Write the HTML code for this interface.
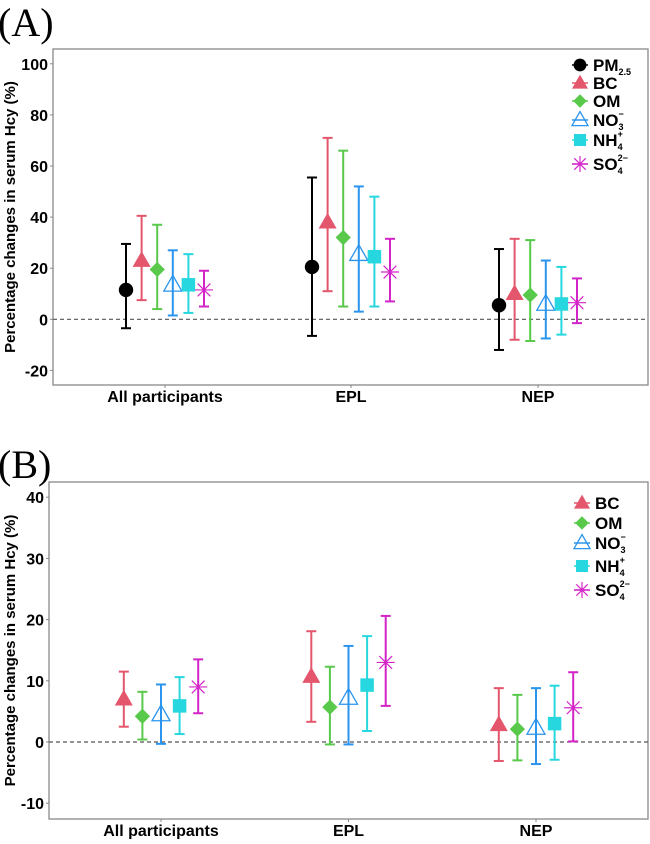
<!DOCTYPE html>
<html><head><meta charset="utf-8"><style>
body{margin:0;background:#fff;}
svg text{font-family:"Liberation Sans",Arial,sans-serif;}
</style></head><body>
<svg id="chart" width="650" height="839" xmlns="http://www.w3.org/2000/svg">
<rect width="650" height="839" fill="#fff"/>
<text x="-2" y="36" style="font-family:'Liberation Serif',serif" font-size="40">(A)</text>
<text x="-2" y="478" style="font-family:'Liberation Serif',serif" font-size="40">(B)</text>
</svg>
<script>
const categories = ["All participants","EPL","NEP"];
const seriesA = ["PM2.5","BC","OM","NO3","NH4","SO4"];
const estA = [[11.5,23,19.5,13.5,13.5,11.5],[20.5,38,32,25.5,24.5,18.5],[5.5,10,9.5,6,6,6.5]];
const lowA = [[-3.5,7.5,4,1.5,2.5,5],[-6.5,11,5,3,5,7],[-12,-8,-8.5,-7.5,-6,-1.5]];
const highA = [[29.5,40.5,37,27,25.5,19],[55.5,71,66,52,48,31.5],[27.5,31.5,31,23,20.5,16]];
const ticksA = [100,80,60,40,20,0,-20];
const seriesB = ["BC","OM","NO3","NH4","SO4"];
const estB = [[7,4.2,4.5,5.9,9],[10.7,5.7,7.2,9.3,13],[2.8,2.1,2.3,3,5.6]];
const lowB = [[2.5,0.4,-0.3,1.3,4.7],[3.3,-0.4,-0.4,1.8,5.9],[-3.1,-3,-3.6,-2.9,0.1]];
const highB = [[11.5,8.2,9.4,10.6,13.5],[18.1,12.3,15.7,17.3,20.6],[8.8,7.7,8.8,9.2,11.4]];
const ticksB = [40,30,20,10,0,-10];

const NS="http://www.w3.org/2000/svg";
const svg=document.getElementById('chart');
const style={"PM2.5":{c:"#000",m:"circle"},"BC":{c:"#e3566b",m:"tri"},"OM":{c:"#58c94a",m:"diamond"},"NO3":{c:"#2a94ee",m:"otri"},"NH4":{c:"#27d7df",m:"square"},"SO4":{c:"#d324c8",m:"star"}};
const legendLabel={"PM2.5":["PM","2.5",""],"BC":["BC","",""],"OM":["OM","",""],"NO3":["NO","3","−"],"NH4":["NH","4","+"],"SO4":["SO","4","2−"]};
function mk(tag,attrs,parent){const e=document.createElementNS(NS,tag);for(const k in attrs)e.setAttribute(k,attrs[k]);(parent||svg).appendChild(e);return e;}
function marker(g,type,x,y,c,s){
  if(type==="circle")mk('circle',{cx:x,cy:y,r:s*0.8,fill:c},g);
  else if(type==="tri")mk('polygon',{points:`${x},${y-s*1.05} ${x-s},${y+s*0.7} ${x+s},${y+s*0.7}`,fill:c},g);
  else if(type==="otri")mk('polygon',{points:`${x},${y-s*1.05} ${x-s},${y+s*0.7} ${x+s},${y+s*0.7}`,fill:"none",stroke:c,"stroke-width":1.3},g);
  else if(type==="diamond")mk('polygon',{points:`${x},${y-s*0.85} ${x+s*0.85},${y} ${x},${y+s*0.85} ${x-s*0.85},${y}`,fill:c},g);
  else if(type==="square")mk('rect',{x:x-s*0.75,y:y-s*0.75,width:s*1.5,height:s*1.5,fill:c},g);
  else if(type==="star"){for(let a=0;a<4;a++){const t=a*Math.PI/4;mk('line',{x1:x-s*Math.cos(t),y1:y-s*Math.sin(t),x2:x+s*Math.cos(t),y2:y+s*Math.sin(t),stroke:c,"stroke-width":1.2},g);}}
}
function panel(cfg){
  const {left,right,top,bottom,v0,y0,pxPerUnit,catX,step,series,est,low,high,ticks,legX,legY,name}=cfg;
  const Y=v=>y0-(v-v0)*pxPerUnit;
  const g=mk('g',{});
  
  
  const box=mk('rect',{x:left,y:top,width:right-left,height:bottom-top,fill:"none",stroke:"#888","stroke-width":1.3},g);
  
  
  const zl=mk('line',{x1:left,x2:right,y1:Y(0),y2:Y(0),stroke:"#555","stroke-width":1.2,"stroke-dasharray":"4,3"},g);
  
  
  ticks.forEach(t=>{
    mk('line',{x1:left-3,x2:left,y1:Y(t),y2:Y(t),stroke:"#888"},g);
    const tx=mk('text',{x:left-5,y:Y(t)+6,"text-anchor":"end","font-size":16,"font-weight":"bold"},g);
    tx.textContent=t;
    
    
  });
  const yt=mk('text',{transform:`translate(15,${(top+bottom)/2}) rotate(-90)`,"text-anchor":"middle","font-size":15,"font-weight":"bold"},g);
  yt.textContent="Percentage changes in serum Hcy (%)";
  
  
  const n=series.length,mid=(n-1)/2;
  categories.forEach((cat,i)=>{
    mk('line',{x1:catX[i],x2:catX[i],y1:bottom,y2:bottom+3,stroke:"#888"},g);
    const ct=mk('text',{x:catX[i],y:bottom+17,"text-anchor":"middle","font-size":16,"font-weight":"bold"},g);
    ct.textContent=cat;
    
    
    series.forEach((s,j)=>{
      const x=catX[i]+(j-mid)*step, c=style[s].c;
      const eg=mk('g',{},g);
      
      
      const yl=Y(low[i][j]),yh=Y(high[i][j]);
      mk('line',{x1:x,x2:x,y1:yl,y2:yh,stroke:c,"stroke-width":2},eg);
      mk('line',{x1:x-5,x2:x+5,y1:yl,y2:yl,stroke:c,"stroke-width":2},eg);
      mk('line',{x1:x-5,x2:x+5,y1:yh,y2:yh,stroke:c,"stroke-width":2},eg);
      marker(eg,style[s].m,x,Y(est[i][j]),c,9);
    });
  });
  series.forEach((s,j)=>{
    const lg=mk('g',{},g);
    
    
    const y=legY[j];
    mk('line',{x1:legX-8,x2:legX+8,y1:y,y2:y,stroke:style[s].c,"stroke-width":1.5},lg);
    marker(lg,style[s].m,legX,y,style[s].c,8);
    const [a,sub,sup]=legendLabel[s];
    const t=mk('text',{x:legX+13,y:y+6,"font-size":17,"font-weight":"bold"},lg);
    t.textContent=a;
    if(sub){const ts=mk('tspan',{"font-size":9,dy:4},t);ts.textContent=sub;}
    if(sup){const tp=mk('tspan',{"font-size":9,dx:-5,dy:-13},t);tp.textContent=sup;}
  });
}
panel({left:53,right:648,top:49,bottom:385,v0:0,y0:319.3,pxPerUnit:51.1/20,catX:[165,351,538],step:15.6,series:seriesA,est:estA,low:lowA,high:highA,ticks:ticksA,legX:580,legY:[65,83,101,120,140,164],name:"panel-a-chart"});
panel({left:49,right:648,top:482,bottom:819,v0:0,y0:742,pxPerUnit:6.12,catX:[161,348.5,536],step:18.6,series:seriesB,est:estB,low:lowB,high:highB,ticks:ticksB,legX:582,legY:[503,523,543,566,590],name:"panel-b-chart"});
</script>
</body></html>
